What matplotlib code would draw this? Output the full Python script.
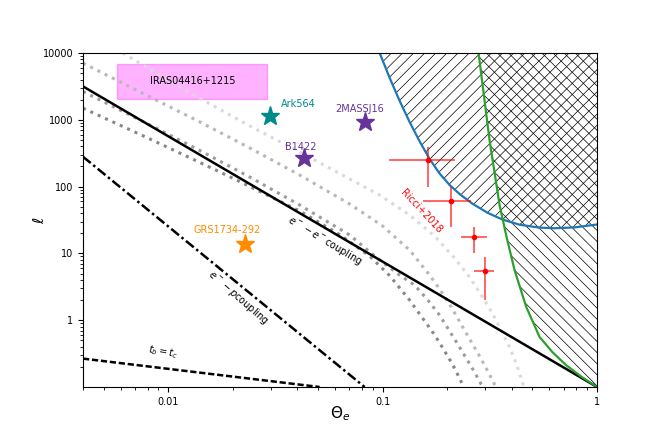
import matplotlib
matplotlib.use("Agg")
import matplotlib.pyplot as plt
import numpy as np

# ---------------- data ----------------
# e-e coupling (solid), e-p coupling (dash-dot), t_b = t_c (dashed)
ee_theta = [0.004, 1.0]
ee_ell = [3162, 0.1]
ep_theta = [0.004, 0.0824]
ep_ell = [280, 0.1]
tb_theta = [0.004, 0.0508]
tb_ell = [0.266, 0.1]

# dotted pair-balance curves (dark -> lightest)
d1_theta = [0.004, 0.0082, 0.01402, 0.02154, 0.04102, 0.06303, 0.08696, 0.1078,
            0.1336, 0.1569, 0.1748, 0.1910, 0.2091, 0.2207, 0.2367, 0.2399]
d1_ell = [1493, 517, 230, 119, 43.1, 19.1, 9.11, 4.65,
          1.995, 0.976, 0.602, 0.380, 0.2346, 0.1696, 0.106, 0.1]
d2_theta = [0.004, 0.0082, 0.01402, 0.02399, 0.04102, 0.07018, 0.09683, 0.12004,
            0.1410, 0.1626, 0.1844, 0.2207, 0.2636, 0.2884, 0.2940]
d2_ell = [2647, 838, 348, 139, 53.0, 18.8, 7.94, 4.73,
          3.35, 1.995, 1.189, 0.473, 0.1842, 0.1098, 0.1]
d3_theta = [0.004, 0.0082, 0.01402, 0.02399, 0.04102, 0.07018, 0.1, 0.1336,
            0.1656, 0.1844, 0.2091, 0.2455, 0.2833, 0.3043, 0.3327, 0.3400]
d3_ell = [7057, 2204, 930, 379, 149, 54.8, 25.7, 11.2,
          4.73, 2.92, 1.566, 0.6385, 0.2886, 0.1908, 0.1098, 0.1]
d4_theta = [0.00614, 0.009129, 0.01402, 0.02399, 0.04102, 0.07018, 0.09683, 0.1336,
            0.1748, 0.2166, 0.2543, 0.2988, 0.3327, 0.3638, 0.3909, 0.4201, 0.4509, 0.4530]
d4_ell = [10000, 4632, 2094, 810, 330, 130, 74.8, 37.5,
          18.2, 8.50, 4.41, 1.995, 1.109, 0.632, 0.3937, 0.2243, 0.1124, 0.1]
dotted_colors = ["#888888", "#9c9c9c", "#b8b8b8", "#dadada"]

# forbidden regions
blue_theta = [0.09683, 0.1078, 0.12004, 0.13356, 0.14877, 0.16562, 0.18436, 0.20525,
              0.22855, 0.26278, 0.30866, 0.36256, 0.4352, 0.5394, 0.63362, 0.78526, 1.0]
blue_ell = [10000, 4249, 1919, 930, 475, 259, 157, 105.7,
            77.4, 55.3, 40.5, 32.1, 26.9, 24.3, 23.8, 24.5, 27.1]
green_theta = [0.2802, 0.3152, 0.3511, 0.3786, 0.4125, 0.4675, 0.5394, 0.6203,
               0.7186, 0.8467, 1.0]
green_ell = [10000, 500, 53, 17.55, 5.62, 1.582, 0.5617, 0.3313,
             0.2115, 0.1422, 0.1]

# sources
star_names = ["Ark564", "2MASSJ16", "B1422", "GRS1734-292"]
star_theta = [0.0299, 0.0824, 0.0428, 0.0229]
star_ell = [1150, 930, 268, 13.8]
star_colors = ["#008b8b", "#663399", "#663399", "#ff8c00"]
label_theta = [0.0404, 0.0781, 0.0415, 0.01884]
label_ell = [1730, 1456, 392, 22.4]

iras_theta = [0.00578, 0.029]
iras_ell = [2050, 6900]

# Ricci+2018 points
ricci_theta = [0.1626, 0.209, 0.267, 0.299]
ricci_ell = [250, 61.5, 17.4, 5.4]
ricci_theta_lo = [0.107, 0.154, 0.233, 0.268]
ricci_theta_hi = [0.2167, 0.259, 0.306, 0.330]
ricci_ell_lo = [100, 25, 10, 2.0]
ricci_ell_hi = [396, 100, 25, 8.9]

xticks = [0.01, 0.1, 1]
xticklabels = ["0.01", "0.1", "1"]
yticks = [1, 10, 100, 1000, 10000]
yticklabels = ["1", "10", "100", "1000", "10000"]

# ---------------- plot ----------------
plt.rcParams["hatch.linewidth"] = 0.5
fig = plt.figure(figsize=(6.64, 4.43), dpi=100)
ax = fig.add_axes([83/664, 1-387/443, 514/664, 334/443])
ax.set_xscale("log")
ax.set_yscale("log")

# hatched regions
ax.fill_between(blue_theta, blue_ell, 1e4, facecolor="none", edgecolor="k",
                linewidth=0, hatch="///")
ax.fill_betweenx(green_ell, green_theta, 1.0, facecolor="none", edgecolor="k",
                 linewidth=0, hatch="\\\\\\")

for th, el, c in zip([d1_theta, d2_theta, d3_theta, d4_theta],
                     [d1_ell, d2_ell, d3_ell, d4_ell], dotted_colors):
    ax.plot(th, el, linestyle=":", color=c, lw=2.2)

ax.plot(ee_theta, ee_ell, "k-", lw=1.8)
ax.plot(ep_theta, ep_ell, color="k", lw=1.8, linestyle=(0, (4, 1.3, 1, 1.3)))
ax.plot(tb_theta, tb_ell, color="k", lw=1.8, linestyle=(0, (2.5, 1.1)))

ax.plot(blue_theta, blue_ell, color="#1f77b4", lw=1.6)
ax.plot(green_theta, green_ell, color="#2ca02c", lw=1.6)

# IRAS box
ax.fill_between(iras_theta, iras_ell[0], iras_ell[1], color="magenta", alpha=0.3)
ax.text(np.sqrt(iras_theta[0]*iras_theta[1]), np.sqrt(iras_ell[0]*iras_ell[1]),
        "IRAS04416+1215", ha="center", va="center", fontsize=7)

for n, t, e, c, lt, le in zip(star_names, star_theta, star_ell, star_colors,
                              label_theta, label_ell):
    ax.plot(t, e, marker="*", color=c, markersize=14, linestyle="none")
    ax.text(lt, le, n, color=c, fontsize=7, ha="center", va="center")

xerr = [np.array(ricci_theta) - np.array(ricci_theta_lo),
        np.array(ricci_theta_hi) - np.array(ricci_theta)]
yerr = [np.array(ricci_ell) - np.array(ricci_ell_lo),
        np.array(ricci_ell_hi) - np.array(ricci_ell)]
ax.errorbar(ricci_theta, ricci_ell, xerr=xerr, yerr=yerr, fmt="none",
            ecolor="red", alpha=0.7, lw=1.2)
ax.plot(ricci_theta, ricci_ell, "o", color="red", markersize=3)
ax.text(0.152, 43, "Ricci+2018", color="red", fontsize=7, rotation=-47,
        ha="center", va="center")

ax.text(0.0537, 15.3, r"$e^- - e^-$coupling", fontsize=7, rotation=-31,
        ha="center", va="center")
ax.text(0.0212, 2.2, r"$e^- - p$coupling", fontsize=7, rotation=-41,
        ha="center", va="center")
ax.text(0.00948, 0.331, r"$t_b = t_c$", fontsize=7, rotation=-10,
        ha="center", va="center")

ax.set_xlim(0.004, 1)
ax.set_ylim(0.1, 10000)
ax.set_xticks(xticks)
ax.set_xticklabels(xticklabels)
ax.set_yticks(yticks)
ax.set_yticklabels(yticklabels)
ax.tick_params(labelsize=7)
ax.set_xlabel(r"$\Theta_e$", fontsize=11, labelpad=-2)
ax.set_ylabel(r"$\ell$", fontsize=11, labelpad=-3)

fig.savefig("out.png", dpi=100)
